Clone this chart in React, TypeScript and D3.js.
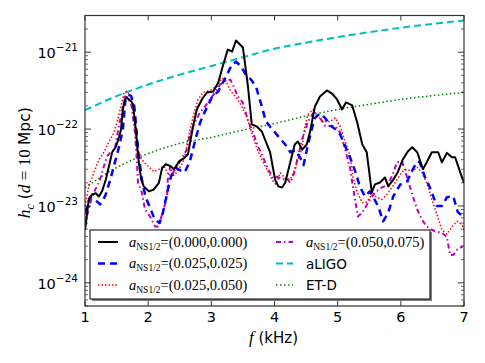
import React from "react";
import * as d3 from "d3";

const W = 485;
const H = 363;
const margin = { top: 15.5, right: 21, bottom: 57, left: 85 };

const xTicks = [1, 2, 3, 4, 5, 6, 7];
const yDecades = [-24, -23, -22, -21];
const yDomain = [5e-25, 3e-21];

// a_NS1/2 = (0.000,0.000)
const f000 = [1.0, 1.06, 1.11, 1.17, 1.22, 1.27, 1.33, 1.38, 1.43, 1.49, 1.54, 1.57, 1.6, 1.63, 1.66, 1.73, 1.76, 1.81, 1.84, 1.89, 1.93, 2.01, 2.09, 2.17, 2.22, 2.28, 2.35, 2.41, 2.49, 2.57, 2.63, 2.71, 2.77, 2.85, 2.93, 3.03, 3.11, 3.18, 3.26, 3.33, 3.39, 3.5, 3.58, 3.64, 3.72, 3.8, 3.85, 3.93, 4.01, 4.06, 4.12, 4.17, 4.25, 4.32, 4.37, 4.44, 4.51, 4.56, 4.64, 4.72, 4.83, 4.91, 4.99, 5.07, 5.13, 5.23, 5.31, 5.39, 5.46, 5.54, 5.59, 5.67, 5.75, 5.8, 5.88, 5.95, 6.03, 6.11, 6.18, 6.26, 6.35, 6.41, 6.49, 6.59, 6.65, 6.73, 6.81, 6.86, 6.94, 7.0];
const h000 = [4.9e-24, 1.22e-23, 1.41e-23, 1.46e-23, 1.33e-23, 1.55e-23, 2.21e-23, 3.3e-23, 5.0e-23, 5.9e-23, 8.0e-23, 9.9e-23, 1.8e-22, 2.43e-22, 2.58e-22, 2.3e-22, 2.1e-22, 9.0e-23, 4.4e-23, 2.21e-23, 1.8e-23, 1.55e-23, 1.64e-23, 2.0e-23, 3.1e-23, 3.5e-23, 3.3e-23, 3.0e-23, 3.8e-23, 4.2e-23, 4.7e-23, 1.08e-22, 1.8e-22, 2.43e-22, 2.99e-22, 3.08e-22, 4.04e-22, 6.5e-22, 1.08e-21, 1.02e-21, 1.42e-21, 1.15e-21, 3.58e-22, 1.15e-22, 1.08e-22, 9.3e-23, 7.3e-23, 5.0e-23, 2.2e-23, 1.8e-23, 1.74e-23, 2.02e-23, 3.7e-23, 6.3e-23, 6.9e-23, 5.4e-23, 6.3e-23, 9.0e-23, 1.97e-22, 2.65e-22, 3.18e-22, 2.9e-22, 2.43e-22, 1.8e-22, 2.22e-22, 2.03e-22, 1.22e-22, 6.3e-23, 5.0e-23, 1.5e-23, 1.91e-23, 2.02e-23, 2.35e-23, 1.8e-23, 2.2e-23, 2.73e-23, 4.0e-23, 5.1e-23, 5.8e-23, 5.0e-23, 3.0e-23, 3.7e-23, 5.0e-23, 5.0e-23, 3.7e-23, 4.9e-23, 4.3e-23, 4.3e-23, 2.73e-23, 2.0e-23];

// a_NS1/2 = (0.025,0.025)
const f025 = [1.0, 1.08, 1.16, 1.24, 1.32, 1.4, 1.47, 1.54, 1.6, 1.64, 1.68, 1.73, 1.78, 1.81, 1.84, 1.9, 1.96, 2.03, 2.1, 2.18, 2.23, 2.31, 2.36, 2.44, 2.51, 2.58, 2.66, 2.74, 2.82, 2.9, 3.01, 3.11, 3.22, 3.33, 3.39, 3.47, 3.55, 3.63, 3.71, 3.79, 3.86, 3.94, 4.01, 4.09, 4.17, 4.25, 4.33, 4.41, 4.46, 4.53, 4.59, 4.64, 4.72, 4.8, 4.88, 4.96, 5.04, 5.12, 5.2, 5.28, 5.35, 5.43, 5.51, 5.64, 5.72, 5.8, 5.88, 5.99, 6.1, 6.19, 6.26, 6.3, 6.38, 6.46, 6.57, 6.65, 6.73, 6.83, 6.9, 7.0];
const h025 = [8.0e-24, 1.3e-23, 1.2e-23, 1.05e-23, 1.35e-23, 2.2e-23, 3.6e-23, 5.9e-23, 1.0e-22, 2.4e-22, 2.8e-22, 2.7e-22, 2.0e-22, 1.08e-22, 5.5e-23, 2.2e-23, 1.3e-23, 9.5e-24, 6.8e-24, 6.0e-24, 8.0e-24, 1.6e-23, 2.4e-23, 3.1e-23, 2.9e-23, 2.75e-23, 3.8e-23, 6.9e-23, 1.2e-22, 1.7e-22, 2.6e-22, 3.1e-22, 4.6e-22, 7.0e-22, 7.5e-22, 6.6e-22, 5.0e-22, 4.4e-22, 3.5e-22, 2.1e-22, 1.28e-22, 1.05e-22, 9.0e-23, 7.5e-23, 6.3e-23, 5.0e-23, 5.3e-23, 4.2e-23, 3.4e-23, 6.3e-23, 1.0e-22, 1.4e-22, 1.6e-22, 1.4e-22, 1.12e-22, 1.0e-22, 8.5e-23, 6.0e-23, 4.2e-23, 2.8e-23, 1.8e-23, 1.33e-23, 1.55e-23, 1.0e-23, 6.3e-24, 8.2e-24, 1.33e-23, 1.9e-23, 2.1e-23, 3.0e-23, 3.8e-23, 3.7e-23, 2.4e-23, 1.74e-23, 1.0e-23, 1.0e-23, 1.3e-23, 1.33e-23, 8.4e-24, 7.0e-24];

// a_NS1/2 = (0.025,0.050)
const f050 = [1.0, 1.06, 1.14, 1.22, 1.3, 1.38, 1.46, 1.51, 1.57, 1.62, 1.66, 1.73, 1.78, 1.82, 1.9, 1.98, 2.09, 2.17, 2.25, 2.33, 2.41, 2.49, 2.57, 2.63, 2.71, 2.79, 2.87, 2.98, 3.09, 3.17, 3.22, 3.3, 3.38, 3.45, 3.56, 3.64, 3.72, 3.8, 3.88, 3.96, 4.02, 4.09, 4.17, 4.25, 4.32, 4.37, 4.44, 4.48, 4.53, 4.61, 4.69, 4.77, 4.88, 4.96, 5.04, 5.12, 5.2, 5.24, 5.31, 5.39, 5.46, 5.54, 5.62, 5.7, 5.78, 5.86, 5.94, 6.02, 6.1, 6.18, 6.26, 6.33, 6.41, 6.49, 6.57, 6.65, 6.73, 6.81, 6.89, 6.97, 7.0];
const h050 = [1.0e-23, 1.8e-23, 2.7e-23, 4.0e-23, 5.0e-23, 6.9e-23, 9.0e-23, 1.25e-22, 2.0e-22, 3.0e-22, 3.1e-22, 2.65e-22, 1.33e-22, 5.9e-23, 4.0e-23, 3.4e-23, 2.8e-23, 3.0e-23, 3.3e-23, 2.5e-23, 2.5e-23, 3.0e-23, 4.0e-23, 7.3e-23, 1.46e-22, 2.43e-22, 2.99e-22, 3.2e-22, 3.6e-22, 4.6e-22, 4.4e-22, 3.2e-22, 2.65e-22, 2.2e-22, 1.45e-22, 9.0e-23, 5.6e-23, 4.0e-23, 3.0e-23, 2.2e-23, 1.9e-23, 2.7e-23, 2.3e-23, 2.2e-23, 3.0e-23, 4.0e-23, 5.9e-23, 1.08e-22, 1.55e-22, 1.8e-22, 1.46e-22, 1.25e-22, 1.25e-22, 1.4e-22, 1.08e-22, 6.9e-23, 4.4e-23, 2.4e-23, 1.5e-23, 1.1e-23, 1.12e-23, 1.41e-23, 1.3e-23, 1.22e-23, 1.41e-23, 1.74e-23, 2.2e-23, 2.8e-23, 3.0e-23, 2.8e-23, 3.2e-23, 2.73e-23, 2.0e-23, 1.22e-23, 7.8e-24, 4.9e-24, 4.3e-24, 5.4e-24, 6.3e-24, 5.7e-24, 4.9e-24];

// a_NS1/2 = (0.050,0.075)
const f075 = [1.0, 1.03, 1.1, 1.14, 1.19, 1.25, 1.3, 1.35, 1.41, 1.47, 1.52, 1.59, 1.63, 1.68, 1.74, 1.79, 1.82, 1.84, 1.9, 1.95, 2.03, 2.11, 2.16, 2.23, 2.3, 2.31, 2.35, 2.38, 2.46, 2.54, 2.61, 2.66, 2.74, 2.82, 2.9, 2.98, 3.06, 3.14, 3.22, 3.3, 3.34, 3.42, 3.5, 3.58, 3.66, 3.74, 3.82, 3.9, 3.98, 4.04, 4.12, 4.19, 4.25, 4.32, 4.37, 4.45, 4.53, 4.61, 4.72, 4.8, 4.88, 4.96, 5.04, 5.12, 5.2, 5.24, 5.32, 5.39, 5.48, 5.59, 5.7, 5.8, 5.88, 5.94, 6.02, 6.1, 6.18, 6.26, 6.33, 6.41, 6.49, 6.57, 6.65, 6.73, 6.78, 6.83, 6.89, 6.98];
const h075 = [5.2e-24, 7.3e-24, 1.22e-23, 1.5e-23, 1.8e-23, 2.35e-23, 3.3e-23, 4.4e-23, 5.1e-23, 5.4e-23, 9.3e-23, 1.8e-22, 2.65e-22, 2.58e-22, 1.97e-22, 9.0e-23, 4.0e-23, 2.0e-23, 1.5e-23, 9.0e-24, 7.3e-24, 5.4e-24, 5.4e-24, 8.2e-24, 1.33e-23, 2.2e-23, 3.3e-23, 2.6e-23, 3.3e-23, 4.3e-23, 5.4e-23, 8.5e-23, 1.22e-22, 1.65e-22, 1.97e-22, 2.43e-22, 3.0e-22, 3.8e-22, 4.2e-22, 4.4e-22, 3.8e-22, 2.65e-22, 2.2e-22, 1.3e-22, 9.0e-23, 5.9e-23, 4.3e-23, 3.0e-23, 2.3e-23, 2.4e-23, 2.2e-23, 2.3e-23, 2.0e-23, 2.8e-23, 4.4e-23, 8.0e-23, 1.25e-22, 1.6e-22, 1.4e-22, 1.1e-22, 1.1e-22, 1.1e-22, 9.0e-23, 5.4e-23, 3.0e-23, 1.8e-23, 7.3e-24, 8.2e-24, 1.1e-23, 1.5e-23, 1.74e-23, 1.9e-23, 2.7e-23, 3.7e-23, 3.8e-23, 2.35e-23, 1.41e-23, 9.0e-24, 6.7e-24, 5.4e-24, 4.9e-24, 4.6e-24, 4.5e-24, 3.9e-24, 2.3e-24, 2.3e-24, 2.7e-24, 3.0e-24];

// detector noise curves
const fDet = [1, 1.5, 2, 2.5, 3, 3.5, 4, 4.5, 5, 5.5, 6, 6.5, 7];
const hALIGO = [1.76e-22, 2.68e-22, 3.8e-22, 5.1e-22, 6.6e-22, 8.6e-22, 1.11e-21, 1.33e-21, 1.57e-21, 1.82e-21, 2.08e-21, 2.33e-21, 2.58e-21];
const hETD = [1.73e-23, 3.16e-23, 4.8e-23, 6.5e-23, 7.8e-23, 9.7e-23, 1.18e-22, 1.48e-22, 1.8e-22, 2.1e-22, 2.43e-22, 2.72e-22, 3.0e-22];

const legendLabels = ["(0.000,0.000)", "(0.025,0.025)", "(0.025,0.050)", "(0.050,0.075)", "aLIGO", "ET-D"];

type Series = { f: number[]; h: number[]; color: string; width: number; dash: string; curve: d3.CurveFactory; label: string; math: boolean };

const series: Series[] = [
  { f: fDet, h: hALIGO, color: "#00bfbf", width: 2, dash: "7,4", curve: d3.curveMonotoneX, label: legendLabels[4], math: false },
  { f: fDet, h: hETD, color: "#008000", width: 1.5, dash: "1.5,2.5", curve: d3.curveMonotoneX, label: legendLabels[5], math: false },
  { f: f075, h: h075, color: "#bf00bf", width: 2, dash: "5,3,1.5,3", curve: d3.curveLinear, label: legendLabels[3], math: true },
  { f: f050, h: h050, color: "#ff0000", width: 1.5, dash: "1.5,2", curve: d3.curveLinear, label: legendLabels[2], math: true },
  { f: f025, h: h025, color: "#0000ff", width: 2.5, dash: "7,5", curve: d3.curveLinear, label: legendLabels[1], math: true },
  { f: f000, h: h000, color: "#000000", width: 2, dash: "", curve: d3.curveLinear, label: legendLabels[0], math: true },
];

const legendOrder = [5, 4, 3, 2, 0, 1]; // indices into series: col1 rows then col2 rows

const serif = "'Liberation Serif', 'DejaVu Serif', serif";
const sans = "'DejaVu Sans', sans-serif";

function MathLabel({ x, y, text }: { x: number; y: number; text: string }) {
  return (
    <text x={x} y={y} fontFamily={serif} fontSize={14.5} fill="#000">
      <tspan fontStyle="italic">a</tspan>
      <tspan fontSize={9.5} dy={3}>NS1/2</tspan>
      <tspan dy={-3}>{"=" + text}</tspan>
    </text>
  );
}

export default function App() {
  const x = d3.scaleLinear().domain([1, 7]).range([margin.left, W - margin.right]);
  const y = d3.scaleLog().domain(yDomain).range([H - margin.bottom, margin.top]);
  const x0 = margin.left, x1 = W - margin.right, y0 = margin.top, y1 = H - margin.bottom;

  const minor: number[] = [];
  for (let d = -25; d <= -21; d++) {
    for (let k = 2; k <= 9; k++) {
      const v = k * Math.pow(10, d);
      if (v > yDomain[0] && v < yDomain[1]) minor.push(v);
    }
  }

  const paths = series.map((s) => {
    const pts = s.f.map((f, i) => [f, s.h[i]] as [number, number]);
    return d3.line<[number, number]>().x((d) => x(d[0])).y((d) => y(d[1])).curve(s.curve)(pts) || "";
  });

  const lg = { x: 90, y: 230, w: 340, h: 69 };
  const rowY = [242, 263.5, 285];
  const colX = [[98, 118, 129], [276, 293, 306]];

  return (
    <svg width={W} height={H} style={{ position: "absolute", left: 0, top: 0, background: "#fff" }}>
      <defs>
        <clipPath id="plot">
          <rect x={x0} y={y0} width={x1 - x0} height={y1 - y0} />
        </clipPath>
      </defs>
      <g clipPath="url(#plot)">
        {series.map((s, i) => (
          <path key={i} d={paths[i]} fill="none" stroke={s.color} strokeWidth={s.width} strokeDasharray={s.dash || undefined} strokeLinejoin="round" />
        ))}
      </g>

      {/* ticks */}
      {xTicks.map((t) => (
        <g key={"xt" + t}>
          <line x1={x(t)} x2={x(t)} y1={y1} y2={y1 - 5} stroke="#000" strokeWidth={0.8} />
          <line x1={x(t)} x2={x(t)} y1={y0} y2={y0 + 5} stroke="#000" strokeWidth={0.8} />
          <text x={x(t)} y={y1 + 16} textAnchor="middle" fontFamily={sans} fontSize={14.5} fill="#000">{t}</text>
        </g>
      ))}
      {yDecades.map((d) => (
        <g key={"yt" + d}>
          <line x1={x0} x2={x0 + 6} y1={y(Math.pow(10, d))} y2={y(Math.pow(10, d))} stroke="#000" strokeWidth={0.8} />
          <line x1={x1} x2={x1 - 6} y1={y(Math.pow(10, d))} y2={y(Math.pow(10, d))} stroke="#000" strokeWidth={0.8} />
          <text x={x0 - 7} y={y(Math.pow(10, d)) + 6} textAnchor="end" fontFamily={sans} fontSize={14.5} fill="#000">
            10<tspan fontSize={10.5} dy={-7}>{"\u2212" + Math.abs(d)}</tspan>
          </text>
        </g>
      ))}
      {minor.map((v, i) => (
        <g key={"ym" + i}>
          <line x1={x0} x2={x0 + 3} y1={y(v)} y2={y(v)} stroke="#000" strokeWidth={0.6} />
          <line x1={x1} x2={x1 - 3} y1={y(v)} y2={y(v)} stroke="#000" strokeWidth={0.6} />
        </g>
      ))}

      <rect x={x0} y={y0} width={x1 - x0} height={y1 - y0} fill="none" stroke="#333" strokeWidth={1.2} />

      {/* legend */}
      <rect x={lg.x + 2} y={lg.y + 2} width={lg.w} height={lg.h} fill="#808080" />
      <rect x={lg.x} y={lg.y} width={lg.w} height={lg.h} fill="#fff" stroke="#000" strokeWidth={1} />
      {legendOrder.map((si, k) => {
        const s = series[si];
        const col = k < 3 ? 0 : 1;
        const row = k % 3;
        const [lx0, lx1, tx] = colX[col];
        const ly = rowY[row];
        return (
          <g key={"lg" + k}>
            <line x1={lx0} x2={lx1} y1={ly} y2={ly} stroke={s.color} strokeWidth={s.width} strokeDasharray={s.dash || undefined} />
            {s.math ? (
              <MathLabel x={tx} y={ly + 4.5} text={s.label} />
            ) : (
              <text x={tx} y={ly + 5} fontFamily={sans} fontSize={13.5} fill="#000">{s.label}</text>
            )}
          </g>
        );
      })}

      {/* axis labels */}
      <text x={(x0 + x1) / 2 - 1} y={343} textAnchor="middle" fontFamily={sans} fontSize={15} fill="#000">
        <tspan fontFamily={serif} fontStyle="italic" fontSize={17}>f</tspan> (kHz)
      </text>
      <text transform={`translate(30,${(y0 + y1) / 2 + 2}) rotate(-90)`} textAnchor="middle" fontFamily={sans} fontSize={15.5} fill="#000">
        <tspan fontFamily={serif} fontStyle="italic" fontSize={17.5}>h</tspan>
        <tspan fontFamily={serif} fontStyle="italic" fontSize={12} dy={4}>c</tspan>
        <tspan dy={-4}> (</tspan>
        <tspan fontFamily={serif} fontStyle="italic" fontSize={17.5}>d</tspan>
        <tspan fontFamily={serif} fontSize={17}>{" = 10 "}</tspan>Mpc)
      </text>
    </svg>
  );
}
